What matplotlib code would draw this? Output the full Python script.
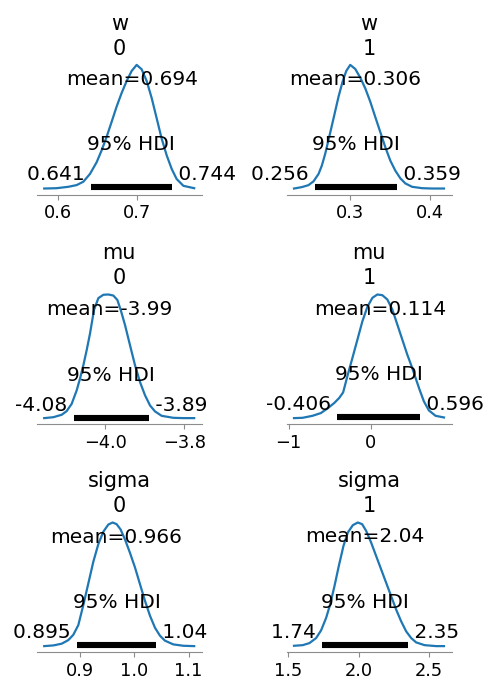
"""
Posterior plots for w, mu, sigma (two components each)
"""
import matplotlib.pyplot as plt

# KDE curves: x values and density
w0_x = [0.5822, 0.5979, 0.6127, 0.6233, 0.6317, 0.6401, 0.6486, 0.6549, 0.6612, 0.6676,
        0.6739, 0.6802, 0.6865, 0.6929, 0.6992, 0.7055, 0.7119, 0.7182, 0.7245, 0.7308,
        0.7372, 0.7435, 0.7498, 0.7583, 0.7720]
w0_y = [0.10, 0.14, 0.31, 0.52, 0.93, 1.88, 3.32, 4.77, 6.42, 8.27,
        10.13, 11.78, 13.23, 14.47, 15.21, 14.67, 13.23, 11.16, 8.69, 6.21,
        4.15, 2.50, 1.26, 0.43, 0.14]

w1_x = [0.2295, 0.2392, 0.2476, 0.2539, 0.2602, 0.2644, 0.2686, 0.2736, 0.2790, 0.2853,
        0.2904, 0.2950, 0.3000, 0.3063, 0.3126, 0.3189, 0.3252, 0.3314, 0.3377, 0.3440,
        0.3503, 0.3566, 0.3629, 0.3692, 0.3776, 0.3902, 0.4027, 0.4176]
w1_y = [0.10, 0.27, 0.51, 0.97, 1.87, 2.90, 4.34, 6.39, 8.65, 11.32,
        13.17, 14.48, 15.23, 14.73, 13.67, 12.35, 10.71, 8.86, 7.01, 5.16,
        3.51, 2.28, 1.34, 0.72, 0.31, 0.14, 0.10, 0.10]

mu0_x = [-4.1547, -4.1316, -4.1105, -4.0978, -4.0851, -4.0725, -4.0641, -4.0556, -4.0472, -4.0387,
         -4.0286, -4.0176, -4.0050, -3.9923, -3.9797, -3.9695, -3.9611, -3.9501, -3.9375, -3.9248,
         -3.9122, -3.8995, -3.8868, -3.8742, -3.8573, -3.8278, -3.8025, -3.7750]
mu0_y = [0.14, 0.20, 0.36, 0.60, 1.08, 1.96, 2.73, 3.61, 4.60, 5.70,
         7.25, 8.02, 8.24, 8.26, 8.19, 7.90, 7.25, 6.25, 4.93, 3.61,
         2.51, 1.64, 0.97, 0.58, 0.29, 0.16, 0.14, 0.14]

mu1_x = [-0.935, -0.8303, -0.7088, -0.6075, -0.5265, -0.4455, -0.3848, -0.3362, -0.2795, -0.2228,
         -0.1620, -0.1012, -0.0405, 0.0203, 0.0810, 0.1418, 0.2026, 0.2633, 0.3241, 0.3848,
         0.4456, 0.4982, 0.5468, 0.5954, 0.6480, 0.7088, 0.7898, 0.893]
mu1_y = [0.018, 0.022, 0.047, 0.081, 0.139, 0.206, 0.269, 0.339, 0.561, 0.770,
         0.999, 1.228, 1.408, 1.520, 1.562, 1.553, 1.499, 1.374, 1.187, 0.999,
         0.811, 0.665, 0.519, 0.373, 0.227, 0.114, 0.047, 0.026]

sigma0_x = [0.8341, 0.8509, 0.8663, 0.8785, 0.8877, 0.8969, 0.9061, 0.9153, 0.9245, 0.9337,
            0.9429, 0.9521, 0.9601, 0.9675, 0.9748, 0.9828, 0.9920, 1.0012, 1.0104, 1.0196,
            1.0288, 1.0380, 1.0472, 1.0564, 1.0717, 1.0901, 1.1102]
sigma0_y = [0.12, 0.18, 0.33, 0.64, 1.10, 1.94, 3.67, 5.54, 7.42, 8.94,
            10.02, 10.64, 10.82, 10.67, 10.21, 9.35, 8.19, 6.93, 5.48, 4.04,
            2.75, 1.71, 1.02, 0.59, 0.27, 0.15, 0.12]

sigma1_x = [1.540, 1.6021, 1.6495, 1.6969, 1.7324, 1.7679, 1.7964, 1.8272, 1.8580, 1.8911,
            1.9220, 1.9575, 1.9930, 2.0238, 2.0522, 2.0878, 2.1233, 2.1588, 2.1944, 2.2299,
            2.2655, 2.3010, 2.3365, 2.3721, 2.4076, 2.4668, 2.5498, 2.605]
sigma1_y = [0.030, 0.043, 0.085, 0.188, 0.347, 0.602, 0.877, 1.256, 1.670, 2.083,
            2.359, 2.510, 2.566, 2.531, 2.394, 2.152, 1.876, 1.601, 1.325, 1.049,
            0.773, 0.532, 0.326, 0.188, 0.099, 0.043, 0.023, 0.023]

var_names = ["w", "w", "mu", "mu", "sigma", "sigma"]
coords = ["0", "1", "0", "1", "0", "1"]
means = [0.694, 0.306, -3.99, 0.114, 0.966, 2.04]
hdi_low = [0.641, 0.256, -4.08, -0.406, 0.895, 1.74]
hdi_high = [0.744, 0.359, -3.89, 0.596, 1.04, 2.35]
curves = [(w0_x, w0_y), (w1_x, w1_y), (mu0_x, mu0_y),
          (mu1_x, mu1_y), (sigma0_x, sigma0_y), (sigma1_x, sigma1_y)]

fig = plt.figure(figsize=(4.94, 6.9), dpi=100)
W, H = 494, 690
col_left = [36.7, 286.5]
row_base = [194.7, 424.3, 652.3]
ax_w, ax_h = 165, 136
fs = 14.5

for i, (xs, ys) in enumerate(curves):
    r, c = divmod(i, 2)
    ax = fig.add_axes([col_left[c] / W, (H - row_base[r]) / H, ax_w / W, ax_h / H])
    ax.plot(xs, ys, color="C0", lw=1.6)
    top = ax.get_ylim()[1]
    ax.set_ylim(ax.get_ylim())
    lo, hi = hdi_low[i], hdi_high[i]
    ax.plot([lo, hi], [top * 0.02, top * 0.02], color="k", lw=4.4, solid_capstyle="butt")
    ax.text(lo, top * 0.07, f"{lo:.3g} ", ha="right", size=fs)
    ax.text(hi, top * 0.07, f" {hi:.3g}", ha="left", size=fs)
    ax.text((lo + hi) / 2, top * 0.3, "95% HDI", ha="center", size=fs)
    ax.text(means[i], top * 0.8, f"mean={means[i]:.3g}", ha="center", size=fs)
    ax.set_title(f"{var_names[i]}\n{coords[i]}", size=15, pad=3, linespacing=1.3)

    ax.set_yticks([])
    for s in ["left", "right", "top"]:
        ax.spines[s].set_visible(False)
    ax.spines["bottom"].set_color("0.55")
    ax.spines["bottom"].set_linewidth(0.8)
    ax.tick_params(axis="x", labelsize=12.8, color="0.55", length=3.5, width=0.8)

fig.savefig("out.png", dpi=100)
